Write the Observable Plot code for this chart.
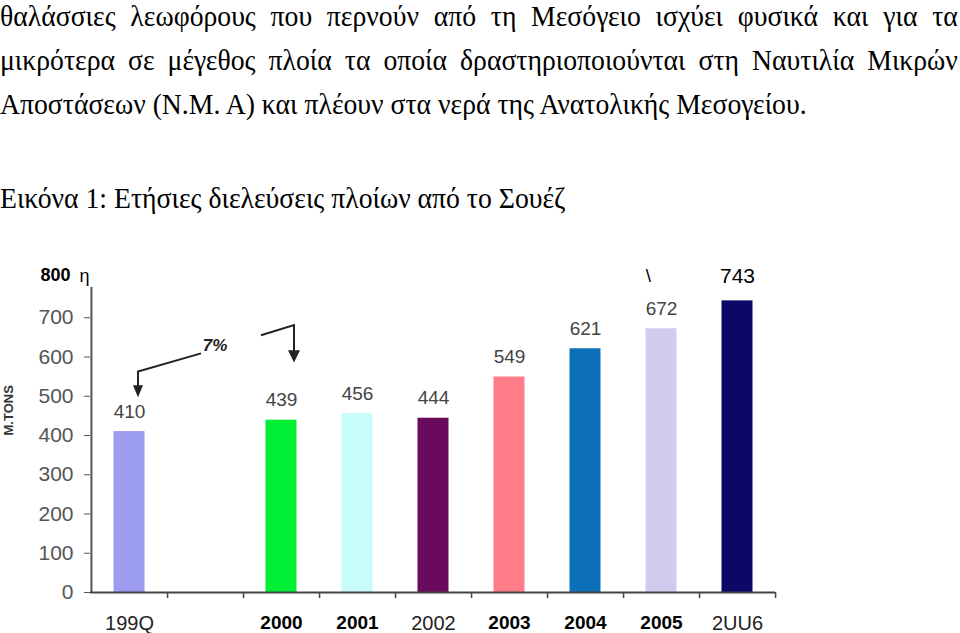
<!DOCTYPE html>
<html><head><meta charset="utf-8">
<script src="https://cdn.jsdelivr.net/npm/d3@7"></script>
<script src="https://cdn.jsdelivr.net/npm/@observablehq/plot@0.6"></script>
<style>
html,body{margin:0;padding:0;background:#fff;}
body{width:960px;height:633px;overflow:hidden;position:relative;}
.t{position:absolute;left:0;font-family:"Liberation Serif","Times New Roman",serif;font-size:29px;line-height:29px;white-space:nowrap;color:#000;transform:scaleX(0.955);transform-origin:0 0;}
.j{width:1003px;text-align:justify;text-align-last:justify;}
#chart{position:absolute;left:0;top:255px;}
</style></head><body>
<div class="t j" style="top:2px">θαλάσσιες λεωφόρους που περνούν από τη Μεσόγειο ισχύει φυσικά και για τα</div>
<div class="t j" style="top:46px">μικρότερα σε μέγεθος πλοία τα οποία δραστηριοποιούνται στη Ναυτιλία Μικρών</div>
<div class="t" style="top:90px">Αποστάσεων (Ν.Μ. Α) και πλέουν στα νερά της Ανατολικής Μεσογείου.</div>
<div class="t" style="top:184px">Εικόνα 1: Ετήσιες διελεύσεις πλοίων από το Σουέζ</div>
<div id="chart"></div>
<script>
// ---- data ----
const slots = ["1999", "gap", "2000", "2001", "2002", "2003", "2004", "2005", "2006"];
const slotLabels = ["199Q", "", "2000", "2001", "2002", "2003", "2004", "2005", "2UU6"];
const barYears = ["1999", "2000", "2001", "2002", "2003", "2004", "2005", "2006"];
const values = [410, 439, 456, 444, 549, 621, 672, 743];
const yTicks = [0, 100, 200, 300, 400, 500, 600, 700];
const yTopLabel = "800";
const boldYears = ["2000", "2001", "2003", "2004", "2005"];
const plainYears = ["1999", "2002", "2006"];
const yAxisTitle = "M.TONS";
const growthText = "7%";

// ---- style ----
const palette = ["#9c9cf0", "#00ee33", "#c8fcfc", "#6a0a5c", "#ff7c88", "#0b70b8", "#d0ccf0", "#0c0868"];
const font = "Liberation Sans, Arial, sans-serif";
const W = 960, H = 378, ML = 90, MR = 185, MT = 23, MB = 41;
const step = (W - ML - MR) / slots.length;

const data = barYears.map((year, i) => ({year, value: values[i]}));
const labelOf = Object.fromEntries(slots.map((s, i) => [s, slotLabels[i]]));

// annotation: arrows with growth percentage, drawn through the scales
function annotation(index, {x, y}) {
  const bw = x.bandwidth();
  const c = (k) => x(k) + bw / 2;
  const g = d3.create("svg:g").attr("stroke", "#222").attr("fill", "none");
  const a1x = c("1999") + 9;
  const a2x = c("2000") + 13;
  // arrow 1
  g.append("path").attr("stroke-width", 2)
    .attr("d", `M${c("gap") - 4},${y(608)}L${a1x},${y(562)}L${a1x},${y(520)}`);
  g.append("path").attr("fill", "#222").attr("stroke", "none")
    .attr("d", `M${a1x - 5},${y(527)}L${a1x + 5},${y(527)}L${a1x},${y(496)}Z`);
  // arrow 2
  g.append("path").attr("stroke-width", 2)
    .attr("d", `M${c("2000") - 20},${y(654)}L${a2x},${y(680)}L${a2x},${y(610)}`);
  g.append("path").attr("fill", "#222").attr("stroke", "none")
    .attr("d", `M${a2x - 6},${y(616)}L${a2x + 6},${y(616)}L${a2x},${y(585)}Z`);
  g.append("text").attr("stroke", "none").attr("fill", "#222")
    .attr("x", c("gap") + 10).attr("y", y(629)).attr("dy", "0.35em")
    .attr("text-anchor", "middle").attr("font-family", font)
    .attr("font-size", 17).attr("font-weight", "bold").attr("font-style", "italic")
    .text(growthText);
  return g.node();
}

const chart = Plot.plot({
  width: W, height: H,
  marginLeft: ML, marginRight: MR, marginTop: MT, marginBottom: MB,
  style: {background: "#fff", fontFamily: font, overflow: "visible"},
  x: {domain: slots, padding: 0, axis: null},
  y: {domain: [0, 800], axis: null},
  color: {domain: barYears, range: palette},
  marks: [
    Plot.barY(data, {x: "year", y: "value", fill: "year", insetLeft: 22.5, insetRight: 22.5}),
    // axes lines
    Plot.ruleY([0], {stroke: "#444", strokeWidth: 2}),
    Plot.ruleX([slots[0]], {x: d => d, y1: 800, y2: 0, insetTop: 9, dx: -step / 2, stroke: "#555", strokeWidth: 2}),
    Plot.ruleX(slots, {x: d => d, y1: 0, y2: 0, insetBottom: -6, dx: step / 2, stroke: "#444", strokeWidth: 1.5}),
    Plot.axisY(yTicks, {tickSize: 6, tickPadding: 11, fontSize: 21, color: "#555", label: null}),
    Plot.text([yTopLabel], {y: () => 800, frameAnchor: "left", dx: -20, dy: -3, textAnchor: "end", fontSize: 18, fontWeight: "bold", fill: "#000"}),
    Plot.text(["η"], {y: () => 800, frameAnchor: "left", dx: -11, dy: -2, textAnchor: "start", fontSize: 18, fill: "#000"}),
    Plot.text([yAxisTitle], {frameAnchor: "left", dx: -82, rotate: -90, fontSize: 13, fontWeight: "bold", fill: "#333"}),
    Plot.axisX(boldYears, {tickSize: 0, tickPadding: 23, fontSize: 19, fontWeight: "bold", color: "#000", tickFormat: d => labelOf[d], label: null}),
    Plot.axisX(plainYears, {tickSize: 0, tickPadding: 23, fontSize: 20, color: "#222", tickFormat: d => labelOf[d], label: null}),
    // value labels
    Plot.text(data.slice(0, -1), {x: "year", y: "value", text: d => String(d.value), dy: -20, fontSize: 19, fill: "#444"}),
    Plot.text(data.slice(-1), {x: "year", y: "value", text: d => String(d.value), dy: -25, fontSize: 21, fill: "#000"}),
    Plot.text(["\\"], {x: () => "2005", y: () => 743, dx: -13, dy: -25, fontSize: 19, fill: "#000"}),
    annotation
  ]
});
document.getElementById("chart").appendChild(chart);
</script>
</body></html>
